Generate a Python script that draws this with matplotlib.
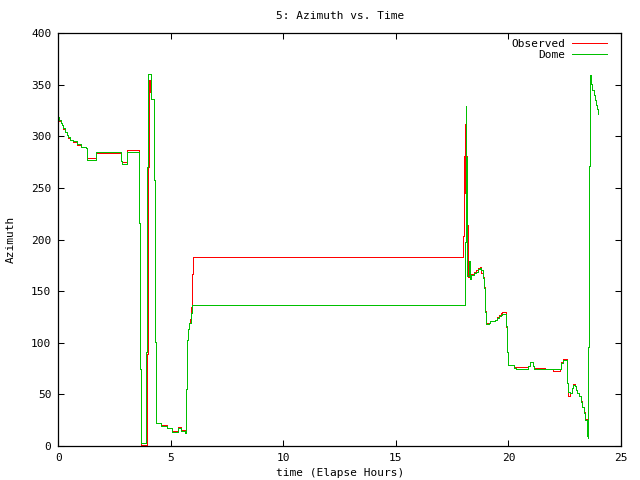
import matplotlib
matplotlib.use("Agg")
import matplotlib.pyplot as plt

plt.rcParams['font.family'] = ['DejaVu Sans Mono']
plt.rcParams['font.size'] = 8

title = "5: Azimuth vs. Time"
xlabel = "time (Elapse Hours)"
ylabel = "Azimuth"
xticks = [0, 5, 10, 15, 20, 25]
yticks = [0, 50, 100, 150, 200, 250, 300, 350, 400]

# Dome (green)
dome_t = [0.00, 0.05, 0.10, 0.15, 0.22, 0.30, 0.37, 0.45, 0.52, 0.67,
          0.82, 1.01, 1.22, 1.29, 1.60, 1.66, 2.70, 2.77, 2.82, 2.99,
          3.04, 3.59, 3.63, 3.66, 3.86, 3.89, 3.93, 3.98, 4.12, 4.27,
          4.30, 4.33, 4.57, 4.82, 5.04, 5.31, 5.46, 5.64, 5.67, 5.71,
          5.75, 5.81, 5.90, 5.96, 18.06, 18.10, 18.13, 18.15, 18.24, 18.27,
          18.35, 18.45, 18.55, 18.65, 18.75, 18.80, 18.85, 18.90, 18.95, 19.01,
          19.13, 19.20, 19.40, 19.47, 19.57, 19.65, 19.70, 19.90, 19.95, 19.97,
          20.24, 20.32, 20.88, 20.94, 21.10, 21.15, 22.33, 22.35, 22.44, 22.59,
          22.61, 22.66, 22.73, 22.84, 22.88, 22.95, 23.01, 23.06, 23.14, 23.21,
          23.28, 23.35, 23.42, 23.47, 23.50, 23.52, 23.53, 23.58, 23.62, 23.66,
          23.72, 23.78, 23.84, 23.88, 23.94, 23.99]
dome_az = [318.5, 315.9, 313.3, 311.1, 307.9, 304.6, 301.4, 299.2, 296.5, 295.0,
           292.6, 290.0, 289.0, 277.0, 277.0, 284.5, 284.5, 276.0, 273.0, 273.0,
           285.0, 216.0, 75.0, 3.0, 3.0, 91.0, 270.0, 360.0, 336.0, 258.0,
           101.0, 22.0, 19.5, 17.0, 14.0, 17.7, 14.8, 13.0, 55.0, 103.0,
           113.0, 119.0, 128.5, 136.5, 198.0, 329.0, 280.0, 165.0, 179.0, 162.0,
           166.0, 168.0, 169.0, 171.0, 172.0, 170.0, 163.0, 153.0, 130.0, 118.0,
           119.0, 121.0, 122.0, 124.0, 126.0, 127.0, 128.0, 116.0, 91.0, 78.5,
           76.0, 74.6, 77.0, 81.0, 77.0, 74.6, 76.0, 80.0, 83.4, 76.0,
           61.0, 52.6, 51.0, 56.0, 59.5, 58.0, 54.3, 51.0, 48.0, 43.0,
           37.5, 32.3, 25.2, 15.5, 9.7, 8.0, 96.0, 271.0, 359.5, 351.0,
           345.0, 340.0, 335.0, 330.0, 326.0, 322.0]

# Observed (red)
obs_t = [0.00, 0.05, 0.10, 0.15, 0.22, 0.30, 0.37, 0.45, 0.52, 0.67,
         0.82, 1.01, 1.22, 1.29, 1.60, 1.66, 2.70, 2.77, 2.82, 2.99,
         3.04, 3.60, 3.64, 3.68, 3.96, 4.00, 4.03, 4.08, 4.12, 4.27,
         4.30, 4.33, 4.57, 4.82, 5.04, 5.31, 5.46, 5.64, 5.67, 5.71,
         5.75, 5.81, 5.86, 5.90, 5.93, 5.97, 17.97, 18.01, 18.04, 18.05,
         18.06, 18.07, 18.08, 18.09, 18.10, 18.11, 18.12, 18.13, 18.14, 18.15,
         18.17, 18.21, 18.27, 18.35, 18.45, 18.55, 18.65, 18.75, 18.80, 18.85,
         18.90, 18.95, 19.01, 19.13, 19.20, 19.40, 19.47, 19.57, 19.65, 19.70,
         19.90, 19.95, 19.97, 20.24, 20.32, 20.88, 20.94, 21.10, 21.15, 21.62,
         21.96, 22.27, 22.33, 22.35, 22.44, 22.59, 22.61, 22.66, 22.73, 22.84,
         22.88, 22.95, 23.01, 23.06, 23.14, 23.21, 23.28, 23.35, 23.42, 23.47,
         23.50, 23.52, 23.53, 23.58, 23.62, 23.66, 23.72, 23.78, 23.84, 23.88,
         23.94, 23.99]
obs_az = [318.0, 315.0, 312.5, 310.5, 307.0, 304.0, 301.0, 298.5, 296.0, 294.5,
          292.0, 289.5, 288.5, 279.0, 279.0, 283.5, 283.5, 276.5, 275.0, 275.0,
          286.5, 216.0, 75.0, 0.5, 89.0, 270.0, 354.0, 343.0, 336.0, 258.0,
          101.0, 22.5, 20.0, 17.5, 15.0, 18.0, 15.5, 13.5, 55.0, 103.0,
          113.0, 119.0, 123.0, 135.0, 167.0, 183.0, 203.0, 245.0, 281.0, 245.0,
          312.0, 245.0, 281.0, 245.0, 281.0, 245.0, 281.0, 245.0, 281.0, 245.0,
          214.0, 164.0, 163.0, 166.5, 168.5, 170.0, 172.0, 173.0, 168.0, 164.0,
          154.0, 131.0, 119.0, 119.5, 121.5, 122.5, 124.5, 126.5, 128.5, 129.5,
          115.0, 91.0, 78.5, 76.5, 76.5, 77.5, 81.0, 77.0, 76.0, 74.6,
          73.0, 74.6, 76.5, 81.0, 84.5, 76.0, 61.0, 48.0, 51.0, 56.5,
          60.0, 58.5, 54.5, 51.5, 48.5, 43.5, 38.0, 33.0, 26.0, 16.0,
          10.0, 8.0, 96.0, 271.0, 359.5, 351.0, 345.0, 340.0, 335.0, 330.0,
          326.0, 322.0]

fig = plt.figure(figsize=(6.4, 4.8), dpi=100)
ax = fig.add_axes([58.3 / 640, 34 / 480, (621 - 58.3) / 640, (446 - 33) / 480])

ax.plot(obs_t, obs_az, drawstyle='steps-post', color='#ff0000', lw=0.72,
        antialiased=False, label='Observed')
ax.plot(dome_t, dome_az, drawstyle='steps-post', color='#00c000', lw=0.72,
        antialiased=False, label='Dome')

ax.set_xlim(0, 25)
ax.set_ylim(0, 400)
ax.set_xticks(xticks)
ax.set_yticks(yticks)
ax.tick_params(direction='in', length=4.5, width=0.75, top=True, right=True, pad=5,
               labelsize=8, colors='black')
for s in ax.spines.values():
    s.set_linewidth(0.9)
    s.set_color('black')

ax.set_title(title, fontsize=8, pad=10)
ax.set_xlabel(xlabel, fontsize=8, labelpad=4)
ax.set_ylabel(ylabel, fontsize=8, labelpad=11)

ax.legend(loc='upper right', bbox_to_anchor=(0.975, 0.985), frameon=False,
          markerfirst=False, handlelength=3.1, handletextpad=0.65, labelspacing=0.05,
          borderaxespad=0, borderpad=0, fontsize=8)

fig.savefig('out.png', dpi=100)
